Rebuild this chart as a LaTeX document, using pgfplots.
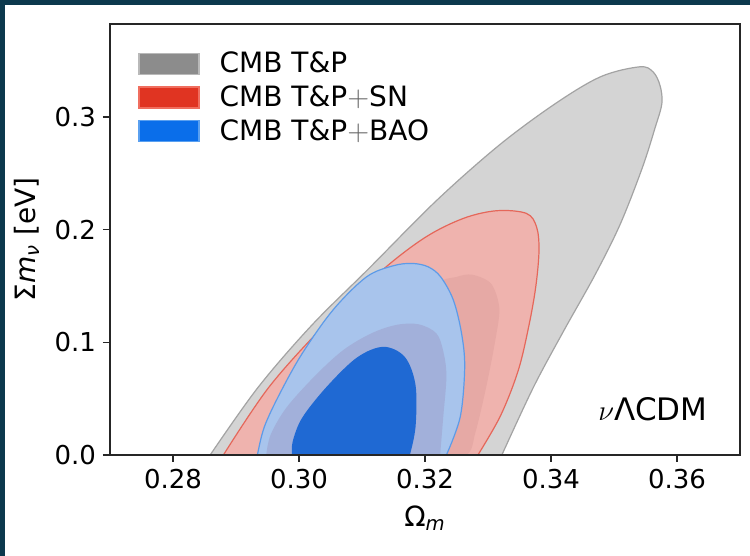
\documentclass[border=0pt]{standalone}
\usepackage{fontspec}
\setmainfont{DejaVu Sans}
\usepackage{pgfplots}
\pgfplotsset{compat=1.18}

\definecolor{bgdark}{RGB}{12,57,77}
\definecolor{grayout}{RGB}{212,212,212}
\definecolor{grayedge}{RGB}{163,163,163}
\definecolor{redout}{RGB}{239,179,174}
\definecolor{rededge}{RGB}{229,103,90}
\definecolor{redin}{RGB}{230,169,165}
\definecolor{blueout}{RGB}{168,196,236}
\definecolor{blueedge}{RGB}{93,155,232}
\definecolor{bluemix}{RGB}{162,176,218}
\definecolor{bluein}{RGB}{31,105,211}
\definecolor{leggray}{RGB}{140,140,140}
\definecolor{leggrayedge}{RGB}{185,185,185}
\definecolor{legred}{RGB}{224,52,34}
\definecolor{legrededge}{RGB}{240,110,95}
\definecolor{legblue}{RGB}{10,110,234}
\definecolor{legblueedge}{RGB}{90,160,240}

\begin{document}
\begin{tikzpicture}
\useasboundingbox (-55pt,-50.5pt) rectangle (320pt,227.5pt);
\fill[white] (-55pt,-50.5pt) rectangle (320pt,227.5pt);
\fill[bgdark] (-55pt,225pt) rectangle (320pt,227.5pt);
\fill[bgdark] (-55pt,-50.5pt) rectangle (-52.5pt,227.5pt);
\begin{axis}[
    scale only axis,
    width=315pt, height=215.5pt,
    xmin=0.27, xmax=0.37,
    ymin=0, ymax=0.3825,
    xtick={0.28,0.30,0.32,0.34,0.36},
    ytick={0,0.1,0.2,0.3},
    tick align=outside,
    xtick pos=left, ytick pos=left,
    major tick length=3.5pt,
    /pgf/number format/assume math mode=true,
    xticklabel style={font=\fontsize{13}{15}\selectfont,
        /pgf/number format/fixed, /pgf/number format/fixed zerofill,
        /pgf/number format/precision=2},
    yticklabel style={font=\fontsize{13}{15}\selectfont,
        /pgf/number format/fixed, /pgf/number format/fixed zerofill,
        /pgf/number format/precision=1},
    axis on top,
    axis line style={line width=0.8pt, black!85},
    tick style={line width=0.8pt, black!85},
    xlabel={Ω\textsubscript{\textit{m}}},
    ylabel={Σ\textit{m}\textsubscript{\textit{ν}} [eV]},
    xlabel style={font=\fontsize{14}{16}\selectfont, at={(axis description cs:0.5,-0.146)}, anchor=center},
    ylabel style={font=\fontsize{14}{16}\selectfont, at={(axis description cs:-0.132,0.5)}, anchor=center},
    legend style={draw=none, fill=none, font=\fontsize{14}{16}\selectfont,
        at={(axis description cs:0.035,0.955)}, anchor=north west,
        row sep=1pt, cells={anchor=west},
        /tikz/every odd column/.append style={column sep=8pt}},
]
% legend patches
\addlegendimage{legend image code/.code={\draw[fill=leggray, draw=leggrayedge, line width=0.6pt] (0pt,-5.25pt) rectangle (30pt,5.25pt);}}
\addlegendentry{CMB T\&P}
\addlegendimage{legend image code/.code={\draw[fill=legred, draw=legrededge, line width=0.6pt] (0pt,-5.25pt) rectangle (30pt,5.25pt);}}
\addlegendentry{CMB T\&P{\color{black!60}$+$}SN}
\addlegendimage{legend image code/.code={\draw[fill=legblue, draw=legblueedge, line width=0.6pt] (0pt,-5.25pt) rectangle (30pt,5.25pt);}}
\addlegendentry{CMB T\&P{\color{black!60}$+$}BAO}

% CMB T&P, 95%
\addplot[forget plot, fill=grayout, draw=grayedge, line width=0.6pt, smooth, tension=0.55] coordinates {
    (0.2859,0) (0.2935,0.06) (0.3020,0.115) (0.3110,0.165) (0.3219,0.2262)
    (0.3320,0.276) (0.3410,0.313) (0.3480,0.336) (0.3541,0.3445)
    (0.3562,0.3400) (0.3573,0.328) (0.3576,0.312) (0.3565,0.290) (0.3545,0.255)
    (0.3510,0.205) (0.3470,0.160) (0.3420,0.110) (0.3372,0.060) (0.3322,0)
} \closedcycle;

% CMB T&P+SN, 95%
\addplot[forget plot, fill=redout, draw=rededge, line width=0.6pt, smooth, tension=0.55] coordinates {
    (0.2880,0) (0.2952,0.06) (0.3040,0.115) (0.3130,0.163) (0.3200,0.193)
    (0.3261,0.210) (0.3314,0.2168) (0.3361,0.2144) (0.3377,0.2026)
    (0.3381,0.182) (0.3376,0.150) (0.3365,0.115) (0.3348,0.075) (0.3320,0.035)
    (0.3284,0)
} \closedcycle;

% darker inner region on the right
\addplot[forget plot, fill=redin, draw=none, smooth, tension=0.5] coordinates {
    (0.3200,0) (0.3265,0) (0.3280,0.02) (0.3297,0.06) (0.3311,0.10) (0.3318,0.13)
    (0.3305,0.152) (0.3275,0.160) (0.3250,0.158) (0.3220,0.150) (0.3200,0.10)
    (0.3200,0)
} \closedcycle;

% CMB T&P+BAO, 95%
\addplot[forget plot, fill=blueout, draw=blueedge, line width=0.6pt, smooth, tension=0.55] coordinates {
    (0.2934,0) (0.2945,0.025) (0.2970,0.055) (0.3005,0.090) (0.3054,0.1287)
    (0.3107,0.158) (0.3150,0.168) (0.3180,0.170) (0.3205,0.167) (0.3225,0.158)
    (0.3245,0.1375) (0.3258,0.108) (0.3263,0.078) (0.3256,0.034) (0.3234,0)
} \closedcycle;

% overlap region inside the BAO contour
\addplot[forget plot, fill=bluemix, draw=none, smooth, tension=0.55] coordinates {
    (0.2948,0) (0.2955,0.018) (0.2980,0.042) (0.3025,0.0700) (0.3070,0.093)
    (0.3115,0.108) (0.3155,0.1155) (0.3190,0.1160) (0.3218,0.108) (0.3229,0.092)
    (0.3234,0.070) (0.3229,0.034) (0.3224,0)
} \closedcycle;

% CMB T&P+BAO, 68%
\addplot[forget plot, fill=bluein, draw=none, smooth, tension=0.55] coordinates {
    (0.2989,0) (0.2990,0.012) (0.3005,0.033) (0.3044,0.0606) (0.3092,0.0865)
    (0.3134,0.0960) (0.3168,0.0870) (0.3185,0.0620) (0.3185,0.025) (0.3176,0)
} \closedcycle;

\node[anchor=east, inner sep=0pt, font=\fontsize{15.5}{17}\selectfont] at (rel axis cs:0.949,0.107) {$\nu$ΛCDM};
\end{axis}
\end{tikzpicture}
\end{document}
